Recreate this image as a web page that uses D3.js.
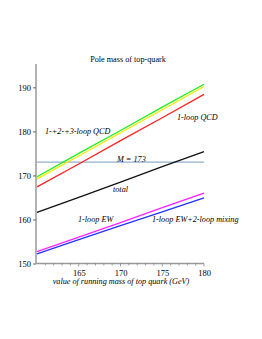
<!DOCTYPE html>
<html><head><meta charset="utf-8">
<script src="https://cdn.jsdelivr.net/npm/d3@7"></script>
<style>body{margin:0;background:#fff}svg{display:block}</style>
</head><body>
<script>
const xs = [160, 165, 170, 175, 180];
const qcd123 = [169.7, 175.0, 180.2, 185.5, 190.7];
const qcd12 = [169.2, 174.4, 179.7, 184.9, 190.2];
const qcd1 = [167.4, 172.6, 177.9, 183.1, 188.4];
const total = [161.6, 165.0, 168.5, 172.0, 175.4];
const ew1 = [152.7, 156.0, 159.3, 162.7, 166.0];
const ewMix = [152.2, 155.4, 158.6, 161.7, 164.9];
const poleM = 173;
const xTicks = [165, 170, 175, 180];
const yTicks = [150, 160, 170, 180, 190];

const W = 262, H = 339;
const svg = d3.select("body").append("svg").attr("width", W).attr("height", H);
const x = d3.scaleLinear().domain([160, 180]).range([37, 204]);
const y = d3.scaleLinear().domain([150, 195.3]).range([263.5, 64]);
const font = "'Liberation Serif','Times New Roman',serif";
const fs = 8.2;

const series = [
  {v: ewMix, c: "#2233ff"},
  {v: ew1, c: "#ff22ff"},
  {v: total, c: "#111111"},
  {v: qcd1, c: "#ff2222"},
  {v: qcd12, c: "#eeee00"},
  {v: qcd123, c: "#22ee22"}
];
const line = d3.line().x((d, i) => x(xs[i])).y(d => y(d));

// M line
svg.append("line").attr("x1", x(160)).attr("x2", x(180))
  .attr("y1", y(poleM)).attr("y2", y(poleM))
  .attr("stroke", "#8fb0cc").attr("stroke-width", 1.3);

series.forEach(s => {
  svg.append("path").datum(s.v).attr("d", line)
    .attr("fill", "none").attr("stroke", s.c).attr("stroke-width", 1.3);
});

// axes
const xAxis = d3.axisBottom(x).tickValues(xTicks).tickSize(0).tickPadding(6).tickFormat(d3.format("d"));
const yAxis = d3.axisLeft(y).tickValues(yTicks).tickSize(3).tickPadding(2).tickFormat(d3.format("d"));
const gx = svg.append("g").attr("transform", `translate(0,${y(150)})`).call(xAxis);
const gy = svg.append("g").attr("transform", `translate(${36},0)`).call(yAxis);
[gx, gy].forEach(g => {
  g.select(".domain").attr("stroke", "#999").attr("stroke-width", 1.5);
  g.selectAll(".tick line").attr("stroke", "#666");
  g.selectAll("text").attr("font-family", font).attr("font-size", 8.5).attr("fill", "#000");
});
gx.select(".domain").attr("d", `M36,0H${x(180)}`);
gy.select(".domain").attr("d", `M0,${y(150)}V64`);
// minor x ticks
const minor = d3.range(161, 180.1, 1);
gx.selectAll(".minor").data(minor).join("line").attr("class", "minor")
  .attr("x1", d => x(d)).attr("x2", d => x(d)).attr("y1", 0).attr("y2", d => d % 5 === 0 ? 3 : 2)
  .attr("stroke", "#666").attr("stroke-width", 0.6);

// title & labels
svg.append("text").attr("x", 128).attr("y", 62).attr("text-anchor", "middle")
  .attr("font-family", font).attr("font-size", fs).text("Pole mass of top-quark");
svg.append("text").attr("x", 121).attr("y", 284).attr("text-anchor", "middle")
  .attr("font-family", font).attr("font-size", fs).attr("font-style", "italic")
  .text("value of running mass of top quark (GeV)");

const ann = [
  {t: "1-loop QCD", x: 177, y: 120},
  {t: "1-+2-+3-loop QCD", x: 45, y: 134},
  {t: "M = 173", x: 117, y: 162},
  {t: "total", x: 113, y: 192},
  {t: "1-loop EW", x: 78, y: 222},
  {t: "1-loop EW+2-loop mixing", x: 152, y: 222}
];
ann.forEach(a => {
  svg.append("text").attr("x", a.x).attr("y", a.y)
    .attr("font-family", font).attr("font-size", fs).attr("font-style", "italic").text(a.t);
});
</script>
</body></html>
